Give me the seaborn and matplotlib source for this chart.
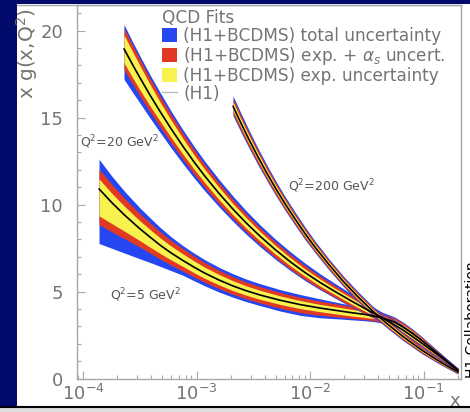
import matplotlib
matplotlib.use("Agg")
import matplotlib.pyplot as plt
from matplotlib.patches import Rectangle, Patch
from matplotlib.lines import Line2D
import numpy as np
import pandas as pd
import seaborn as sns

# ---- gluon density x*g(x,Q^2) from the QCD fits ----
# Q^2 = 5 GeV^2
x_q5 = [1.384e-4, 1.800e-4, 2.344e-4, 3.178e-4, 3.893e-4, 4.770e-4, 5.962e-4,
        7.604e-4, 9.506e-4, 1.188e-3, 1.578e-3, 2.097e-3, 2.730e-3, 3.627e-3,
        5.441e-3, 8.164e-3, 1.225e-2, 1.838e-2, 2.344e-2, 3.052e-2, 3.738e-2,
        4.579e-2, 5.496e-2, 6.465e-2, 7.918e-2, 9.700e-2, 0.1188, 0.1456,
        0.1712, 0.2014]
g_q5 = [10.9, 10.1, 9.37, 8.6, 8.13, 7.67, 7.22, 6.78, 6.40, 6.05, 5.66, 5.32,
        5.05, 4.8, 4.5, 4.25, 4.05, 3.88, 3.78, 3.68, 3.58, 3.43, 3.25, 3.0,
        2.62, 2.18, 1.70, 1.23, 0.85, 0.48]
tot_up_q5 = [1.7, 1.52, 1.36, 1.2, 1.11, 1.02, 0.93, 0.85, 0.81, 0.77, 0.73,
             0.7, 0.67, 0.65, 0.61, 0.58, 0.53, 0.46, 0.42, 0.38, 0.35, 0.32,
             0.3, 0.28, 0.25, 0.22, 0.19, 0.16, 0.14, 0.12]
tot_dn_q5 = [3.14, 2.62, 2.17, 1.72, 1.46, 1.22, 1.02, 0.85, 0.78, 0.73, 0.69,
             0.65, 0.63, 0.61, 0.62, 0.62, 0.56, 0.46, 0.41, 0.36, 0.32, 0.28,
             0.26, 0.25, 0.22, 0.2, 0.17, 0.15, 0.13, 0.12]
as_up_q5 = [1.15, 1.05, 0.96, 0.87, 0.82, 0.77, 0.72, 0.68, 0.64, 0.6, 0.56,
            0.53, 0.5, 0.48, 0.45, 0.42, 0.4, 0.37, 0.35, 0.32, 0.3, 0.27,
            0.25, 0.23, 0.2, 0.18, 0.15, 0.13, 0.11, 0.1]
as_dn_q5 = [2.05, 1.68, 1.35, 1.05, 0.92, 0.8, 0.7, 0.61, 0.57, 0.53, 0.5,
            0.48, 0.47, 0.46, 0.46, 0.46, 0.42, 0.36, 0.33, 0.3, 0.27, 0.25,
            0.23, 0.21, 0.19, 0.17, 0.14, 0.12, 0.11, 0.1]
exp_up_q5 = [0.58, 0.54, 0.5, 0.46, 0.44, 0.42, 0.4, 0.38, 0.36, 0.34, 0.32,
             0.3, 0.28, 0.27, 0.25, 0.23, 0.21, 0.2, 0.19, 0.18, 0.16, 0.15,
             0.13, 0.12, 0.11, 0.1, 0.08, 0.07, 0.06, 0.05]
exp_dn_q5 = [1.55, 1.2, 0.92, 0.68, 0.58, 0.48, 0.4, 0.34, 0.32, 0.3, 0.28,
             0.27, 0.26, 0.25, 0.24, 0.23, 0.21, 0.2, 0.19, 0.17, 0.15, 0.14,
             0.13, 0.12, 0.11, 0.1, 0.08, 0.07, 0.06, 0.05]

# Q^2 = 20 GeV^2
x_q20 = [2.297e-4, 2.702e-4, 3.178e-4, 3.893e-4, 4.770e-4, 5.962e-4, 7.604e-4,
         9.506e-4, 1.188e-3, 1.578e-3, 2.097e-3, 2.730e-3, 3.627e-3, 4.916e-3,
         6.665e-3, 9.035e-3, 1.225e-2, 1.661e-2, 2.251e-2, 3.052e-2, 4.137e-2,
         5.172e-2, 6.465e-2, 7.918e-2, 9.700e-2, 0.1188, 0.1456, 0.1712, 0.2014]
g_q20 = [18.95, 18.10, 17.28, 16.29, 15.35, 14.36, 13.34, 12.45, 11.62, 10.64,
         9.73, 8.95, 8.18, 7.42, 6.72, 6.09, 5.52, 5.0, 4.5, 4.02, 3.56, 3.2,
         2.82, 2.43, 2.02, 1.6, 1.17, 0.82, 0.47]
tot_up_q20 = [1.4, 1.32, 1.25, 1.17, 1.1, 1.02, 0.95, 0.9, 0.85, 0.8, 0.75,
              0.7, 0.65, 0.61, 0.58, 0.54, 0.5, 0.46, 0.42, 0.37, 0.32, 0.3,
              0.27, 0.25, 0.22, 0.19, 0.16, 0.14, 0.12]
tot_dn_q20 = [1.75, 1.6, 1.45, 1.32, 1.2, 1.1, 1.0, 0.92, 0.85, 0.77, 0.7,
              0.65, 0.6, 0.55, 0.5, 0.46, 0.42, 0.38, 0.35, 0.31, 0.28, 0.26,
              0.24, 0.22, 0.2, 0.18, 0.15, 0.13, 0.12]
as_q20 = [1.2, 1.12, 1.05, 0.96, 0.88, 0.81, 0.75, 0.7, 0.65, 0.6, 0.55, 0.51,
          0.48, 0.45, 0.42, 0.39, 0.36, 0.33, 0.3, 0.27, 0.25, 0.23, 0.21,
          0.19, 0.17, 0.15, 0.12, 0.1, 0.09]
exp_q20 = [0.8, 0.75, 0.7, 0.62, 0.55, 0.5, 0.45, 0.41, 0.38, 0.35, 0.32, 0.3,
           0.27, 0.25, 0.23, 0.21, 0.2, 0.18, 0.17, 0.15, 0.14, 0.13, 0.12,
           0.11, 0.1, 0.09, 0.07, 0.06, 0.05]

# Q^2 = 200 GeV^2
x_q200 = [2.097e-3, 2.466e-3, 2.902e-3, 3.482e-3, 4.179e-3, 5.016e-3, 6.019e-3,
          7.376e-3, 9.035e-3, 1.107e-2, 1.470e-2, 1.953e-2, 2.595e-2, 3.517e-2,
          4.771e-2, 6.598e-2, 9.700e-2, 0.1397, 0.2014]
g_q200 = [15.65, 14.67, 13.73, 12.73, 11.79, 10.89, 10.05, 9.17, 8.33, 7.55,
          6.54, 5.60, 4.75, 3.91, 3.15, 2.41, 1.62, 0.96, 0.37]
tot_up_q200 = [0.6, 0.57, 0.54, 0.5, 0.47, 0.44, 0.42, 0.4, 0.38, 0.35, 0.33,
               0.31, 0.3, 0.28, 0.26, 0.24, 0.2, 0.16, 0.12]
tot_dn_q200 = [0.55, 0.52, 0.49, 0.46, 0.43, 0.4, 0.38, 0.36, 0.35, 0.32, 0.31,
               0.29, 0.28, 0.27, 0.25, 0.23, 0.2, 0.15, 0.12]
as_q200 = [0.44, 0.42, 0.4, 0.37, 0.35, 0.33, 0.31, 0.29, 0.28, 0.26, 0.25,
           0.23, 0.22, 0.21, 0.2, 0.18, 0.16, 0.12, 0.09]
exp_q200 = [0.25, 0.24, 0.23, 0.21, 0.2, 0.19, 0.18, 0.17, 0.16, 0.15, 0.145,
            0.135, 0.13, 0.125, 0.12, 0.11, 0.09, 0.07, 0.05]

legend_labels = ["(H1+BCDMS) total uncertainty",
                 "(H1+BCDMS) exp. + $\\alpha_s$ uncert.",
                 "(H1+BCDMS) exp. uncertainty",
                 "(H1)"]
y_ticks = [0, 5, 10, 15, 20]
x_ticks = [1e-4, 1e-3, 1e-2, 1e-1]
x_tick_labels = ["$10^{-4}$", "$10^{-3}$", "$10^{-2}$", "$10^{-1}$"]

BLUE = "#2447f2"
RED = "#e23a22"
YELLOW = "#f7f24e"
NAVY = "#020b6c"
GREY_TXT = "#747474"
GREY_AX = "#a8a8a8"

sns.set_style("white")
plt.rcParams["font.family"] = ["DejaVu Sans"]
plt.rcParams["mathtext.fontset"] = "dejavusans"

W, H = 470, 412
fig = plt.figure(figsize=(W / 100, H / 100), dpi=100, facecolor=NAVY)

# white slide panel with a thin grey top edge
fig.patches.append(Rectangle((17 / W, 1 - 407 / H), 453 / W, 403 / H,
                             transform=fig.transFigure, facecolor="white",
                             edgecolor="none", zorder=-2))
fig.lines.append(Line2D([17 / W, 461 / W], [1 - 4.8 / H] * 2,
                        transform=fig.transFigure, color=GREY_AX, lw=1.0,
                        zorder=-1))

ax = fig.add_axes([77 / W, 1 - 378.5 / H, 384 / W, 373.5 / H])
ax.set_zorder(1)
ax.set_facecolor("none")
ax.set_xscale("log")


def draw_band(x, g, tot_up, tot_dn, as_up, as_dn, exp_up, exp_dn):
    x = np.asarray(x)
    g = np.asarray(g)
    for up, dn, col in ((tot_up, tot_dn, BLUE), (as_up, as_dn, RED),
                        (exp_up, exp_dn, YELLOW)):
        ax.fill_between(x, g - np.asarray(dn), g + np.asarray(up),
                        color=col, lw=0, zorder=2)


draw_band(x_q5, g_q5, tot_up_q5, tot_dn_q5, as_up_q5, as_dn_q5,
          exp_up_q5, exp_dn_q5)
draw_band(x_q20, g_q20, tot_up_q20, tot_dn_q20, as_q20, as_q20,
          exp_q20, exp_q20)
draw_band(x_q200, g_q200, tot_up_q200, tot_dn_q200, as_q200, as_q200,
          exp_q200, exp_q200)

central = pd.concat([
    pd.DataFrame({"x": x_q5, "xg": g_q5, "Q2": 5}),
    pd.DataFrame({"x": x_q20, "xg": g_q20, "Q2": 20}),
    pd.DataFrame({"x": x_q200, "xg": g_q200, "Q2": 200}),
])
sns.lineplot(data=central, x="x", y="xg", units="Q2", estimator=None,
             color="black", lw=1.2, ax=ax, zorder=3)

ax.set_xlim(10 ** -4.053, 10 ** -0.670)
ax.set_ylim(0, 21.47)
ax.set_xlabel("")
ax.set_ylabel("")

ax.set_yticks(y_ticks)
ax.set_yticks(np.arange(0, 22, 1), minor=True)
ax.set_xticks(x_ticks)
ax.set_xticklabels(x_tick_labels)
ax.xaxis.set_minor_locator(matplotlib.ticker.LogLocator(base=10, subs=np.arange(2, 10)))
ax.xaxis.set_minor_formatter(matplotlib.ticker.NullFormatter())

ax.tick_params(axis="both", which="major", direction="in", length=6, width=0.8,
               color=GREY_AX, labelcolor=GREY_TXT)
ax.tick_params(axis="both", which="minor", direction="in", length=3, width=0.8,
               color=GREY_AX)
ax.tick_params(axis="y", which="both", left=True, right=False)
ax.tick_params(axis="x", which="both", bottom=True, top=False)
ax.tick_params(axis="y", which="major", labelsize=13, pad=10)
ax.tick_params(axis="x", which="major", labelsize=13, pad=4)
for s in ax.spines.values():
    s.set_visible(True)
    s.set_color(GREY_AX)
    s.set_linewidth(1.0)

# curve labels
lab_kw = dict(fontsize=9, color="#555555", ha="left", va="center", zorder=4)
ax.text(9.4e-5, 13.56, "Q$^2$=20 GeV$^2$", **lab_kw)
ax.text(6.4e-3, 11.03, "Q$^2$=200 GeV$^2$", **lab_kw)
ax.text(1.73e-4, 4.77, "Q$^2$=5 GeV$^2$", **lab_kw)

handles = [Patch(facecolor=BLUE, edgecolor="none"),
           Patch(facecolor=RED, edgecolor="none"),
           Patch(facecolor=YELLOW, edgecolor="none"),
           Line2D([], [], color="#bdbdbd", lw=1.0)]
leg = ax.legend(handles, legend_labels, title="QCD Fits", loc="upper left",
                bbox_to_anchor=(0.221, 0.99), frameon=False, fontsize=12.2,
                title_fontsize=12.2, handlelength=0.9, handleheight=0.9,
                handletextpad=0.35, labelspacing=0.0, borderpad=0,
                borderaxespad=0, alignment="left")
for t in leg.get_texts():
    t.set_color(GREY_TXT)
leg.get_title().set_color(GREY_TXT)

# axis titles
fig.text(27 / W, 1 - 8 / H, "x g(x,Q$^2$)", rotation=90, ha="center",
         va="top", fontsize=14.5, color=GREY_TXT)
fig.text(455 / W, 1 - 401 / H, "x", ha="center", va="center", fontsize=13,
         color=GREY_TXT)
fig.text(465 / W, 1 - 378 / H, "H1 Collaboration", rotation=90, ha="left",
         va="bottom", fontsize=10, color="black")

# footer strip
fig.patches.append(Rectangle((0, 0), 1, 5 / H, transform=fig.transFigure,
                             facecolor="#dedede", edgecolor="none", zorder=5))
fig.lines.append(Line2D([0, 1], [5 / H] * 2, transform=fig.transFigure,
                        color="black", lw=1.5, zorder=6))

fig.savefig("out.png", dpi=100, facecolor=NAVY)
